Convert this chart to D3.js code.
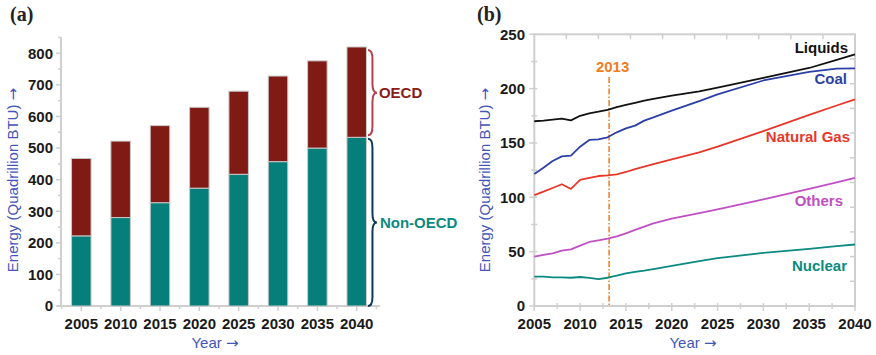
<!DOCTYPE html>
<html>
<head>
<meta charset="utf-8">
<script src="https://cdn.jsdelivr.net/npm/d3@7"></script>
<style>
  html, body { margin: 0; padding: 0; background: #fff; }
  svg { display: block; }
  text { font-family: "Liberation Sans", Arial, Helvetica, sans-serif; }
  text.panel { font-family: "Liberation Serif", "Times New Roman", serif; }
  tspan.arrow { font-family: "DejaVu Sans", sans-serif; }
</style>
</head>
<body>
<svg id="chart" width="876" height="355"></svg>
<script>
// ---- Panel (a): world energy consumption by region ----
const barYears = [2005, 2010, 2015, 2020, 2025, 2030, 2035, 2040];
const nonOECD = [222, 280, 327, 373, 417, 457, 500, 534];
const OECD    = [245, 242, 244, 256, 263, 271, 276, 286];
const barTicks = [0, 100, 200, 300, 400, 500, 600, 700, 800];

// ---- Panel (b): world energy consumption by fuel ----
const fuelYears = [2005, 2006, 2007, 2008, 2009, 2010, 2011, 2012, 2013, 2014, 2015,
                   2016, 2017, 2018, 2020, 2023, 2025, 2030, 2035, 2038, 2040];
const liquids = [170, 170.5, 171.5, 172.5, 170.8, 175, 177.3, 178.8, 180.5, 183, 185,
                 187, 189, 190.5, 193.5, 197.5, 201, 210, 219, 226.5, 231.6];
const coal    = [121.5, 127.3, 133.4, 137.7, 138.3, 146.6, 152.8, 153.4, 155.2, 159.8, 163.5,
                 166, 170.6, 173.6, 179.8, 188.5, 194.8, 207.5, 215.5, 218.5, 218.7];
const natGas  = [102.1, 105.2, 108.6, 112, 107.7, 116, 117.8, 119.6, 120.2, 121.2, 123.3,
                 126, 128.2, 130.5, 135, 141.4, 146.6, 161, 175.8, 184.5, 190.2];
const others  = [45.4, 47, 48.5, 51, 52.1, 55.5, 58.9, 60.4, 62, 64.1, 66.9,
                 70, 73, 76, 80.5, 85.5, 89, 98, 107.7, 113.8, 118];
const nuclear = [27, 27, 26.4, 26.3, 26, 26.7, 25.8, 24.8, 26, 27.9, 30,
                 31.3, 32.5, 34, 37, 41.2, 44, 48.8, 52.5, 55, 56.6];
const lineXTicks = [2005, 2010, 2015, 2020, 2025, 2030, 2035, 2040];
const lineYTicks = [0, 50, 100, 150, 200, 250];
const markerYear = 2013;

const svg = d3.select("#chart");
const axisGray = "#cfcfcf";
const titleBlue = "#4355b8";

// axis title with a long right arrow
function arrowTitle(sel, label) {
  sel.append("tspan").text(label + " ");
  sel.append("tspan").attr("class", "arrow").text("\u2192");
  return sel;
}

// =================== Panel (a) ===================
const ga = svg.append("g");
const xa = d3.scalePoint().domain(barYears).range([81.3, 356.7]);
const ya = d3.scaleLinear().domain([0, 800]).range([306, 53.3]);
const barW = 19.5;

// y axis line and ticks
ga.append("line").attr("x1", 61).attr("x2", 61)
  .attr("y1", ya(850)).attr("y2", ya(0) + 1)
  .attr("stroke", axisGray).attr("stroke-width", 2);
d3.range(0, 851, 50).forEach(v => {
  const major = v % 100 === 0;
  ga.append("line").attr("x1", major ? 56 : 58).attr("x2", 61)
    .attr("y1", ya(v)).attr("y2", ya(v))
    .attr("stroke", axisGray).attr("stroke-width", 1.5);
});
ga.selectAll("text.yt").data(barTicks).join("text")
  .attr("x", 53).attr("y", d => ya(d)).attr("dy", "0.36em")
  .attr("text-anchor", "end").attr("font-size", 15).attr("font-weight", "bold")
  .attr("fill", "#1a1a1a").text(d => d);

// x axis line and ticks
ga.append("line").attr("x1", 57).attr("x2", 380)
  .attr("y1", 306).attr("y2", 306)
  .attr("stroke", axisGray).attr("stroke-width", 2);
const stepA = xa.step();
barYears.forEach(yr => {
  ga.append("line").attr("x1", xa(yr)).attr("x2", xa(yr))
    .attr("y1", 306).attr("y2", 311).attr("stroke", axisGray).attr("stroke-width", 1.5);
  ga.append("line").attr("x1", xa(yr) + stepA / 2).attr("x2", xa(yr) + stepA / 2)
    .attr("y1", 306).attr("y2", 309).attr("stroke", axisGray).attr("stroke-width", 1.5);
});
ga.append("line").attr("x1", xa(2005) - stepA / 2).attr("x2", xa(2005) - stepA / 2)
  .attr("y1", 306).attr("y2", 309).attr("stroke", axisGray).attr("stroke-width", 1.5);
ga.selectAll("text.xt").data(barYears).join("text")
  .attr("x", d => xa(d)).attr("y", 329)
  .attr("text-anchor", "middle").attr("font-size", 15).attr("font-weight", "bold")
  .attr("fill", "#1a1a1a").text(d => d);

// stacked bars
const stackRows = barYears.map((yr, i) => ({ year: yr, non: nonOECD[i], oecd: OECD[i] }));
const stacked = d3.stack().keys(["non", "oecd"])(stackRows);
const barColors = { non: "#067f7a", oecd: "#7f1b14" };
stacked.forEach(layer => {
  ga.selectAll(null).data(layer).join("rect")
    .attr("x", d => xa(d.data.year) - barW / 2)
    .attr("width", barW)
    .attr("y", d => ya(d[1]))
    .attr("height", d => ya(d[0]) - ya(d[1]))
    .attr("fill", barColors[layer.key])
    .attr("stroke", "#c9c9c9").attr("stroke-width", 1);
});

// curly brace generator, opening to the left with its tip to the right
function bracePath(x, y0, y1, w) {
  const ym = (y0 + y1) / 2, h = w / 2;
  return `M${x},${y0} Q${x + h},${y0} ${x + h},${y0 + w} ` +
         `L${x + h},${ym - w} Q${x + h},${ym} ${x + w},${ym} ` +
         `Q${x + h},${ym} ${x + h},${ym + w} ` +
         `L${x + h},${y1 - w} Q${x + h},${y1} ${x},${y1}`;
}
const lastIdx = barYears.length - 1;
const braceX = xa(barYears[lastIdx]) + barW / 2 + 1.5;
const lastTotal = nonOECD[lastIdx] + OECD[lastIdx];
const oecdTop = ya(lastTotal) + 3, oecdBot = ya(nonOECD[lastIdx]) - 2;
const nonTop = ya(nonOECD[lastIdx]) + 1.5, nonBot = ya(0);
ga.append("path").attr("d", bracePath(braceX, oecdTop, oecdBot, 9))
  .attr("fill", "none").attr("stroke", "#b3404c").attr("stroke-width", 2);
ga.append("path").attr("d", bracePath(braceX, nonTop, nonBot, 9))
  .attr("fill", "none").attr("stroke", "#0c3a55").attr("stroke-width", 2);
ga.append("text").attr("x", braceX + 11).attr("y", (oecdTop + oecdBot) / 2).attr("dy", "0.36em")
  .attr("font-size", 15).attr("font-weight", "bold").attr("fill", "#8a1c18").text("OECD");
ga.append("text").attr("x", braceX + 12).attr("y", (nonTop + nonBot) / 2).attr("dy", "0.36em")
  .attr("font-size", 15).attr("font-weight", "bold").attr("fill", "#0b8a82").text("Non-OECD");

// titles
arrowTitle(ga.append("text").attr("transform", `translate(18,180) rotate(-90)`)
  .attr("text-anchor", "middle").attr("font-size", 15).attr("fill", titleBlue),
  "Energy (Quadrillion BTU)");
arrowTitle(ga.append("text").attr("x", 215).attr("y", 348).attr("text-anchor", "middle")
  .attr("font-size", 15).attr("fill", titleBlue), "Year");
ga.append("text").attr("class", "panel").attr("x", 10).attr("y", 21)
  .attr("font-size", 20).attr("font-weight", "bold").attr("fill", "#222").text("(a)");

// =================== Panel (b) ===================
const gb = svg.append("g");
const xb = d3.scaleLinear().domain([2005, 2040]).range([534.3, 855]);
const yb = d3.scaleLinear().domain([0, 250]).range([306, 34.3]);

// frame
gb.append("rect").attr("x", xb(2005)).attr("y", yb(250))
  .attr("width", xb(2040) - xb(2005)).attr("height", yb(0) - yb(250))
  .attr("fill", "none").attr("stroke", axisGray).attr("stroke-width", 2);

// left ticks (outward) and bottom ticks (outward)
d3.range(0, 251, 25).forEach(v => {
  const major = v % 50 === 0;
  gb.append("line").attr("x1", xb(2005) - (major ? 5 : 3)).attr("x2", xb(2005) + 3)
    .attr("y1", yb(v)).attr("y2", yb(v)).attr("stroke", axisGray).attr("stroke-width", 1.5);
});
d3.range(2005, 2040.1, 2.5).forEach(v => {
  const major = (v - 2005) % 5 === 0;
  gb.append("line").attr("x1", xb(v)).attr("x2", xb(v))
    .attr("y1", yb(0) - 3).attr("y2", yb(0) + (major ? 5 : 3))
    .attr("stroke", axisGray).attr("stroke-width", 1.5);
});
// top ticks (inward)
d3.range(1, 10).forEach(k => {
  const x = xb(2005) + k * (xb(2040) - xb(2005)) / 10;
  gb.append("line").attr("x1", x).attr("x2", x).attr("y1", yb(250)).attr("y2", yb(250) + 5)
    .attr("stroke", axisGray).attr("stroke-width", 1.5);
});
// right ticks (inward)
d3.range(1, 11).forEach(k => {
  const y = yb(250) + k * (yb(0) - yb(250)) / 11;
  gb.append("line").attr("x1", xb(2040) - 5).attr("x2", xb(2040)).attr("y1", y).attr("y2", y)
    .attr("stroke", axisGray).attr("stroke-width", 1.5);
});

gb.selectAll("text.yt").data(lineYTicks).join("text")
  .attr("x", 525).attr("y", d => yb(d)).attr("dy", "0.36em")
  .attr("text-anchor", "end").attr("font-size", 15).attr("font-weight", "bold")
  .attr("fill", "#1a1a1a").text(d => d);
gb.selectAll("text.xt").data(lineXTicks).join("text")
  .attr("x", d => xb(d)).attr("y", 329)
  .attr("text-anchor", "middle").attr("font-size", 15).attr("font-weight", "bold")
  .attr("fill", "#1a1a1a").text(d => d);

// 2013 marker
gb.append("line").attr("x1", xb(markerYear) + 1.5).attr("x2", xb(markerYear) + 1.5)
  .attr("y1", 77).attr("y2", yb(0))
  .attr("stroke", "#f07d1e").attr("stroke-width", 1.5)
  .attr("stroke-dasharray", "6,2,1.5,2");
gb.append("text").attr("x", xb(markerYear) + 5).attr("y", 67).attr("dy", "0.36em")
  .attr("text-anchor", "middle").attr("font-size", 15).attr("font-weight", "bold")
  .attr("fill", "#f07d1e").text(String(markerYear));

// fuel lines
const fuels = [
  { name: "Liquids",     values: liquids, color: "#111111", lx: 848, ly: 47.7 },
  { name: "Coal",        values: coal,    color: "#2c3fa6", lx: 847, ly: 79 },
  { name: "Natural Gas", values: natGas,  color: "#e8372a", lx: 850, ly: 137 },
  { name: "Others",      values: others,  color: "#c04fc4", lx: 843, ly: 200.7 },
  { name: "Nuclear",     values: nuclear, color: "#0a8a80", lx: 847, ly: 265.7 }
];
const lineGen = d3.line().x((d, i) => xb(fuelYears[i])).y(d => yb(d));
fuels.forEach(f => {
  gb.append("path").attr("d", lineGen(f.values))
    .attr("fill", "none").attr("stroke", f.color).attr("stroke-width", 1.8)
    .attr("stroke-linejoin", "round");
  gb.append("text").attr("x", f.lx).attr("y", f.ly).attr("dy", "0.36em")
    .attr("text-anchor", "end").attr("font-size", 15).attr("font-weight", "bold")
    .attr("fill", f.color).text(f.name);
});

// titles
arrowTitle(gb.append("text").attr("transform", `translate(490,180) rotate(-90)`)
  .attr("text-anchor", "middle").attr("font-size", 15).attr("fill", titleBlue),
  "Energy (Quadrillion BTU)");
arrowTitle(gb.append("text").attr("x", 693).attr("y", 348).attr("text-anchor", "middle")
  .attr("font-size", 15).attr("fill", titleBlue), "Year");
gb.append("text").attr("class", "panel").attr("x", 477).attr("y", 21)
  .attr("font-size", 20).attr("font-weight", "bold").attr("fill", "#222").text("(b)");
</script>
</body>
</html>
